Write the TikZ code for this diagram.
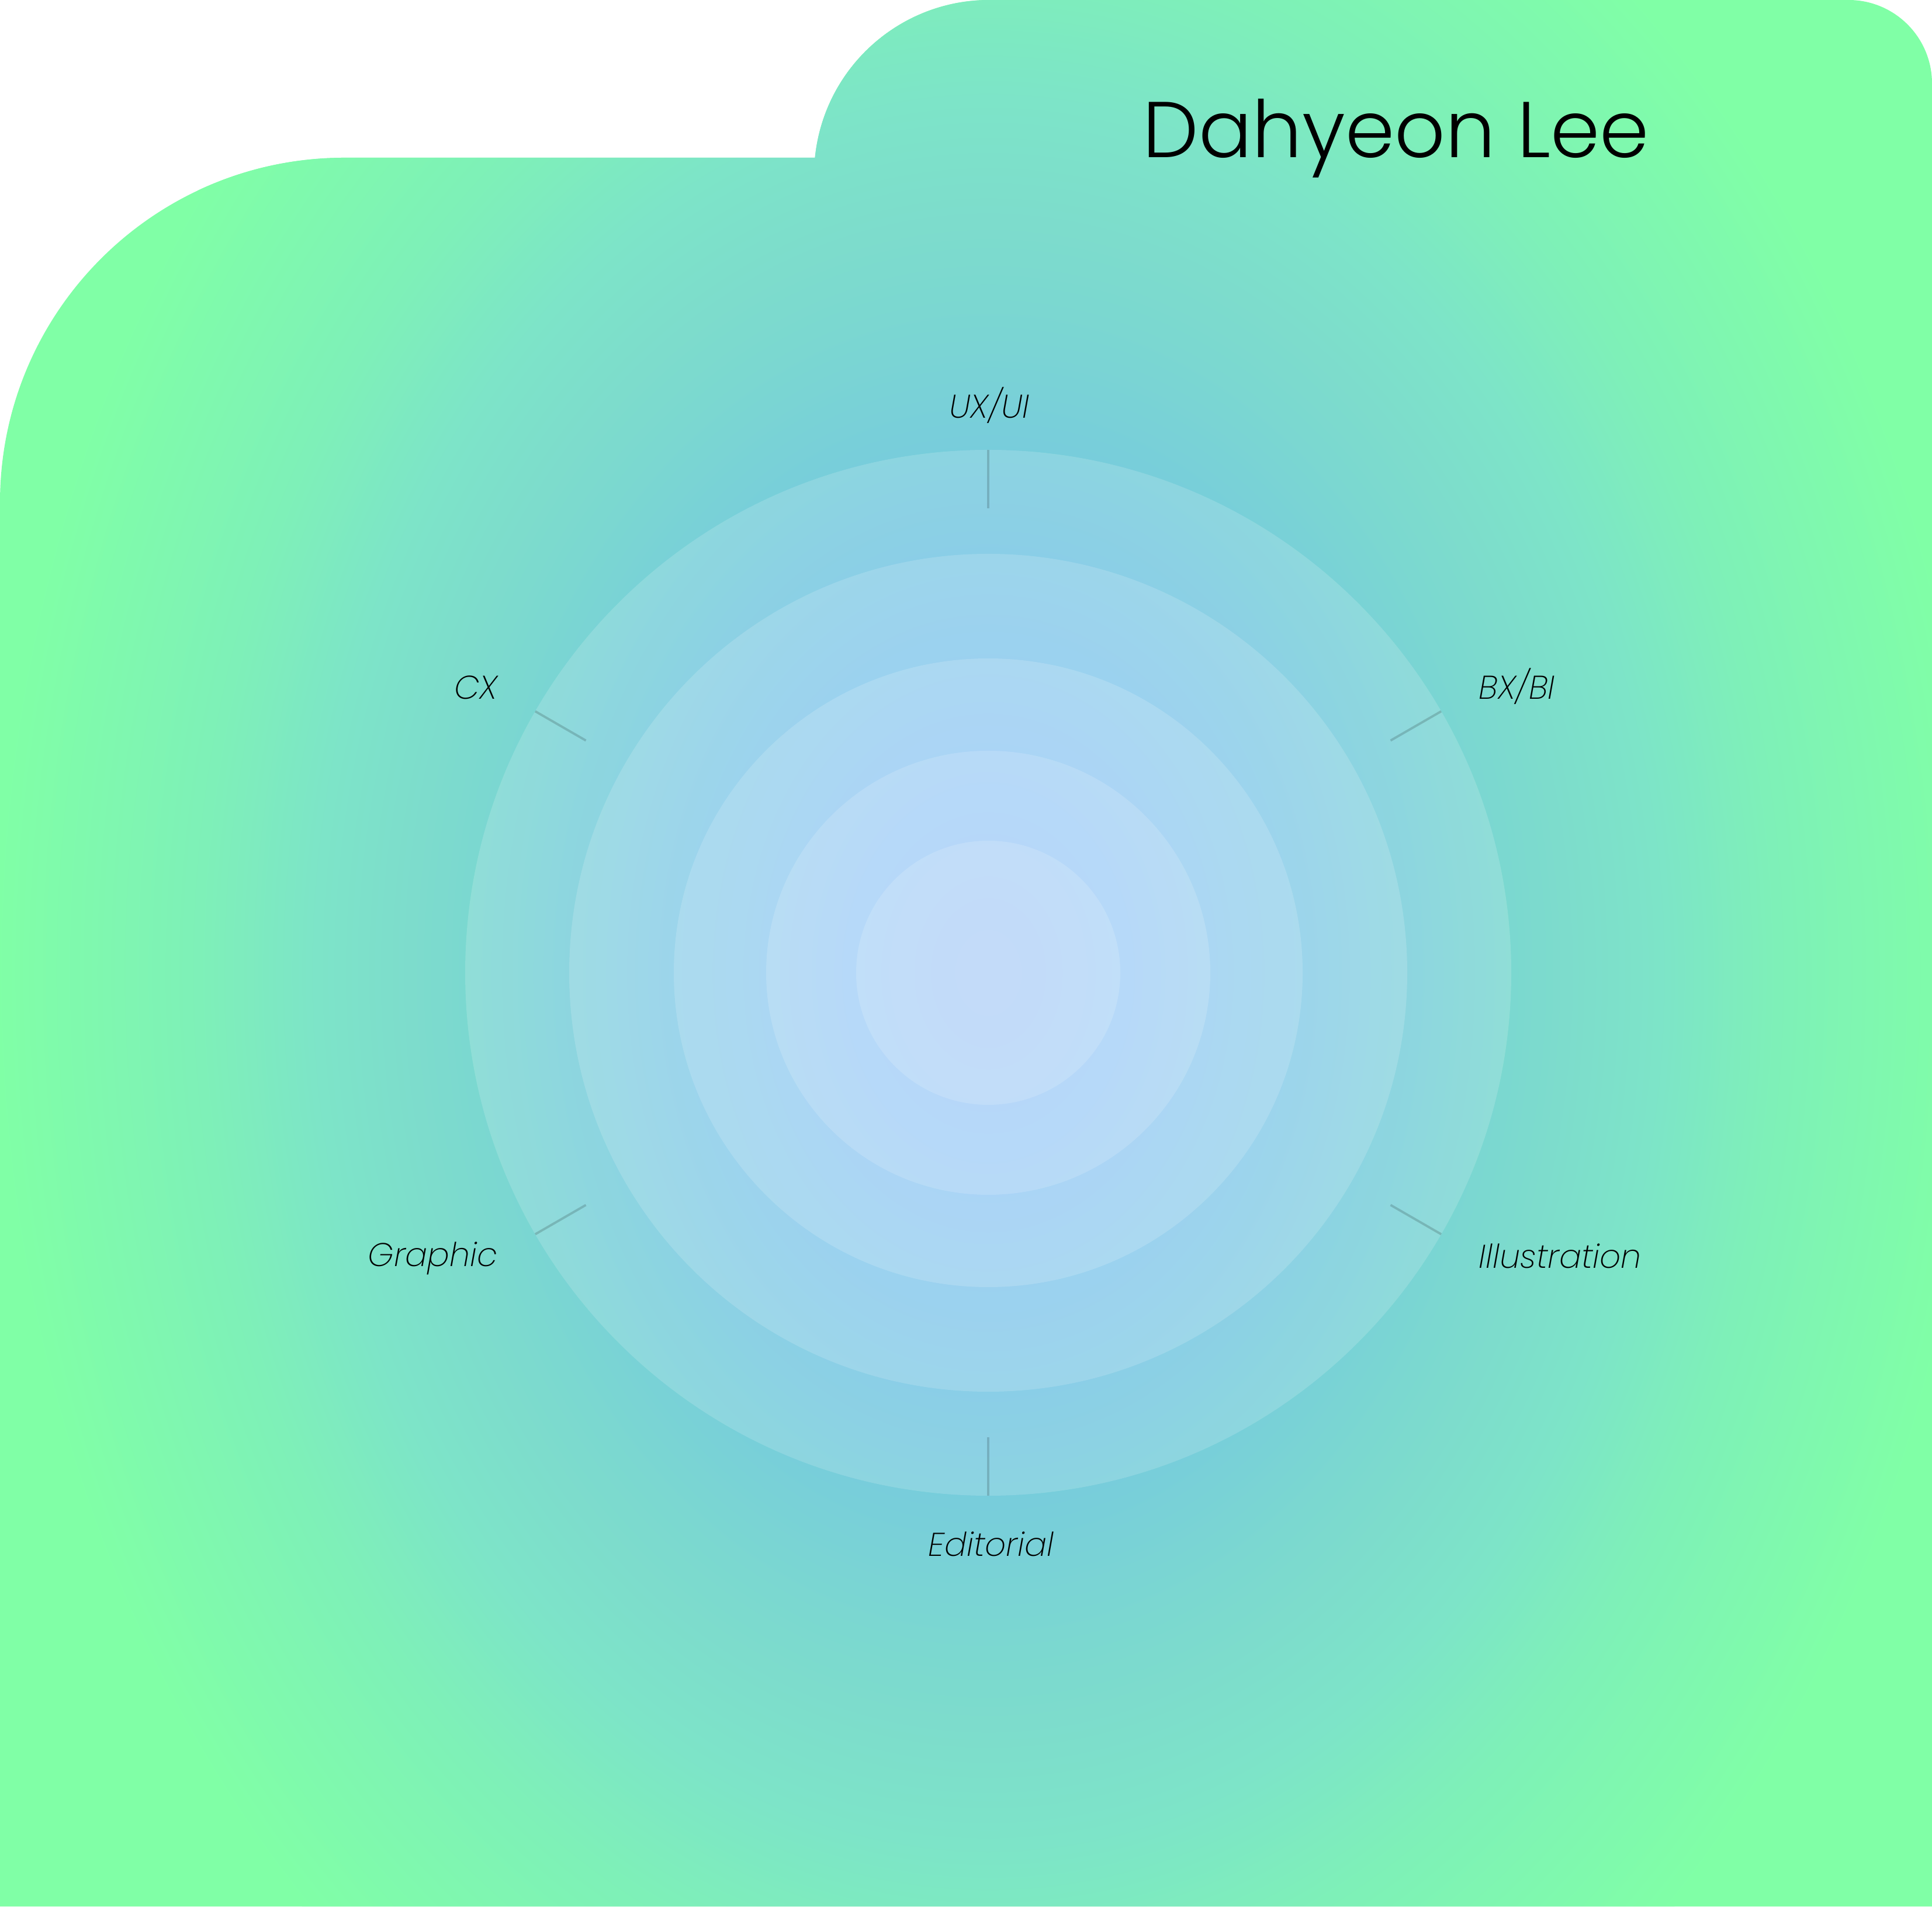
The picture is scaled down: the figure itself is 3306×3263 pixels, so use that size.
\documentclass[tikz,border=0pt]{standalone}
\usepackage{fontspec}
\newfontfamily\titlefont{Poppins Light}
\newfontfamily\labelfont{Poppins ExtraLight Italic}
\usetikzlibrary{calc}
\definecolor{gA}{HTML}{72ACF8}
\definecolor{gB}{HTML}{70B4F6}
\definecolor{gC}{HTML}{73BEEC}
\definecolor{gD}{HTML}{74C4E4}
\definecolor{gE}{HTML}{78CEDA}
\definecolor{gF}{HTML}{7BD8D0}
\definecolor{gG}{HTML}{7DDCCC}
\definecolor{gI}{HTML}{7DE4C8}
\definecolor{gJ}{HTML}{7EF0B8}
\definecolor{gH}{HTML}{80FFA6}
\definecolor{ov}{HTML}{FFFFFF}
\pgfdeclareradialshading{bgrad}{\pgfpoint{0bp}{0bp}}{%
  color(0bp)=(gA); color(3.32bp)=(gB); color(5.59bp)=(gC); color(7.91bp)=(gD);
  color(10.54bp)=(gE); color(13.16bp)=(gF); color(14.56bp)=(gG); color(16.9bp)=(gI);
  color(19.85bp)=(gJ); color(25bp)=(gH); color(50bp)=(gH)}
\tikzset{
  folder/.style={fill=gH},
  ring/.style={fill=ov, fill opacity=0.16},
  tickline/.style={draw=black, draw opacity=0.16, line width=1.1pt},
  title/.style={inner sep=0pt, font=\titlefont\fontsize{38.5}{46}\selectfont, text=black},
  lab/.style={inner sep=0pt, font=\labelfont\fontsize{16}{20}\selectfont, text=black}
}
\begin{document}
\begin{tikzpicture}[x=0.01cm,y=0.01cm]
\path[use as bounding box] (0,0) rectangle (3306,3263);
\def\folderpath{(0,0) -- (3306,0) -- (3306,3120) arc[start angle=0,end angle=90,radius=143]
  -- (1693,3263) arc[start angle=90,end angle=174.26,radius=300]
  -- (590,2993) arc[start angle=90,end angle=180,radius=590] -- cycle}
\path[folder] \folderpath;
\begin{scope}
  \clip \folderpath;
  \shade[shading=bgrad] (1691,1598) ellipse [x radius=1700, y radius=2210];
\end{scope}
\coordinate (C) at (1691,1598);
\foreach \r in {895,717,538,380,226}{
  \fill[ring] (C) circle[radius=\r];
}
\foreach \a/\n in {90/t1,30/t2,-30/t3,-90/t4,210/t5,150/t6}{
  \coordinate (\n i) at ($(C)+(\a:795)$);
  \coordinate (\n o) at ($(C)+(\a:895)$);
  \draw[tickline] (\n i) -- (\n o);
}
\node[title, anchor=base west] (name) at (1955,2993) {Dahyeon Lee};
\node[lab, anchor=base] (ux) at (1693,2547) {UX/UI};
\node[lab, anchor=base west] (bx) at (2530,2066) {BX/BI};
\node[lab, anchor=base west] (ill) at (2530,1092) {Illustration};
\node[lab, anchor=base] (ed) at (1696,599) {Editorial};
\node[lab, anchor=base east] (gr) at (852,1095) {Graphic};
\node[lab, anchor=base east] (cx) at (852,2066) {CX};
\end{tikzpicture}
\end{document}
